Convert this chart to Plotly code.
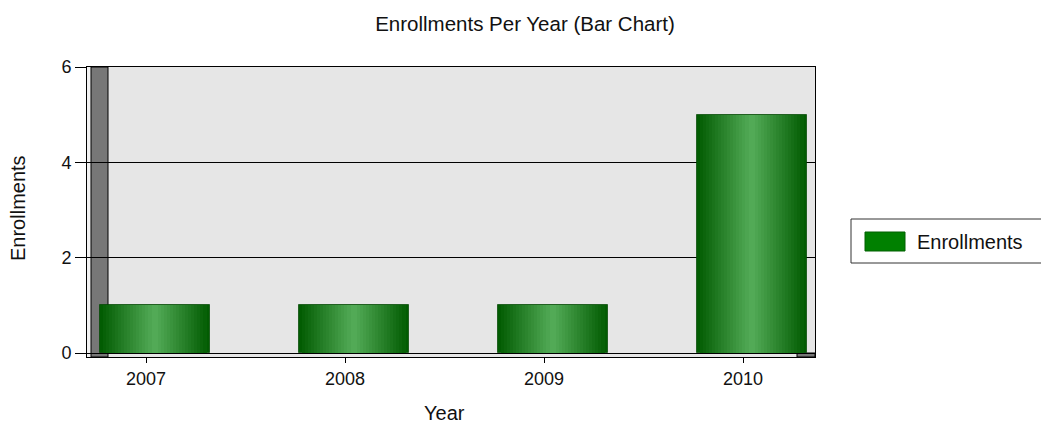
import plotly.graph_objects as go

# ---- data ----
years = ["2007", "2008", "2009", "2010"]
enrollments = [1, 1, 1, 5]
y_ticks = [0, 2, 4, 6]
series_name = "Enrollments"

# ---- layout geometry (reference pixels); page body adds an 8px offset ----
OFF = 8
W, H = 1049 - OFF, 423 - OFF
L, R, T, B = 87, 815, 67, 357


def px(x):
    return (x - L) / (R - L)


def py(y):
    return (B - y) / (B - T)


FONT = "Liberation Sans, Arial, sans-serif"

fig = go.Figure()

# cylinder-like shading built from stacked, narrowing bar layers
N = 18
edge = (0, 90, 0)
center = (84, 172, 88)
bar_w = 0.553
bar_c = 0.043
for i in range(N):
    frac = 1 - i / N
    r = frac - 0.5 / N
    m = 1 - r
    col = "rgb(%d,%d,%d)" % tuple(round(edge[k] + (center[k] - edge[k]) * m) for k in range(3))
    w = bar_w * frac
    fig.add_trace(go.Bar(
        x=years, y=enrollments, width=w, offset=bar_c - w / 2,
        marker=dict(color=col, line=dict(width=1 if i == 0 else 0, color="rgba(0,70,0,0.7)")),
        showlegend=False, hoverinfo="skip", name=series_name,
    ))

shapes = [
    # light strip between outer frame and wall
    dict(type="rect", xref="paper", yref="paper", x0=0, x1=px(91), y0=0, y1=1,
         fillcolor="#f2f2f2", line=dict(width=0), layer="below"),
    # left 3D wall
    dict(type="rect", xref="paper", yref="paper", x0=px(91), x1=px(108), y0=0, y1=1,
         fillcolor="#777777", line=dict(color="black", width=1), layer="below"),
    # bottom-right floor side
    dict(type="rect", xref="paper", yref="paper", x0=px(797), x1=1, y0=0, y1=py(353),
         fillcolor="#777777", line=dict(color="black", width=1), layer="below"),
    # legend box (runs past the right edge, as in the reference)
    dict(type="rect", xref="paper", yref="paper", x0=px(851), x1=px(1070), y0=py(263), y1=py(219),
         fillcolor="white", line=dict(color="#333333", width=1)),
    # legend swatch
    dict(type="rect", xref="paper", yref="paper", x0=px(865), x1=px(905), y0=py(251), y1=py(232),
         fillcolor="#008000", line=dict(color="#006000", width=1)),
]

annotations = [
    dict(text=series_name, xref="paper", yref="paper", x=px(915), y=py(241.5),
         xanchor="left", yanchor="middle", showarrow=False,
         font=dict(family=FONT, size=20, color="#111111")),
    dict(text="Year", xref="paper", yref="paper", x=px(444), y=py(413),
         xanchor="center", yanchor="middle", showarrow=False,
         font=dict(family=FONT, size=20, color="#111111")),
    dict(text="Enrollments", xref="paper", yref="paper", x=px(18), y=py(208),
         xanchor="center", yanchor="middle", showarrow=False, textangle=-90,
         font=dict(family=FONT, size=20, color="#111111")),
]

unit = (353 - T) / 6.0
ymin = -(B - 353) / unit

fig.update_layout(
    width=W, height=H, autosize=False,
    margin=dict(l=L - OFF, r=1049 - R, t=T - OFF, b=423 - B, pad=0),
    paper_bgcolor="white", plot_bgcolor="#e6e6e6",
    barmode="overlay", bargap=0,
    showlegend=False,
    title=dict(text="Enrollments Per Year (Bar Chart)",
               x=(525 - OFF) / W, xref="container", xanchor="center",
               y=1 - (24 - OFF) / H, yref="container", yanchor="middle",
               font=dict(family=FONT, size=20.5, color="#111111")),
    shapes=shapes, annotations=annotations,
    font=dict(family=FONT, size=18, color="#111111"),
)

fig.update_xaxes(
    type="category", range=[-0.2965, 3.3618],
    ticks="outside", ticklen=5, tickcolor="black", tickwidth=1,
    showgrid=False, showline=True, linecolor="black", linewidth=1, mirror=True,
    zeroline=False, tickfont=dict(family=FONT, size=18, color="#111111"),
)
fig.update_yaxes(
    range=[ymin, 6], tickvals=y_ticks, ticktext=[str(v) for v in y_ticks],
    ticks="outside", ticklen=11, tickcolor="black", tickwidth=1,
    showgrid=True, gridcolor="black", gridwidth=1,
    showline=True, linecolor="black", linewidth=1, mirror=True,
    zeroline=False, tickfont=dict(family=FONT, size=18, color="#111111"),
)

fig.write_html("out.html")
